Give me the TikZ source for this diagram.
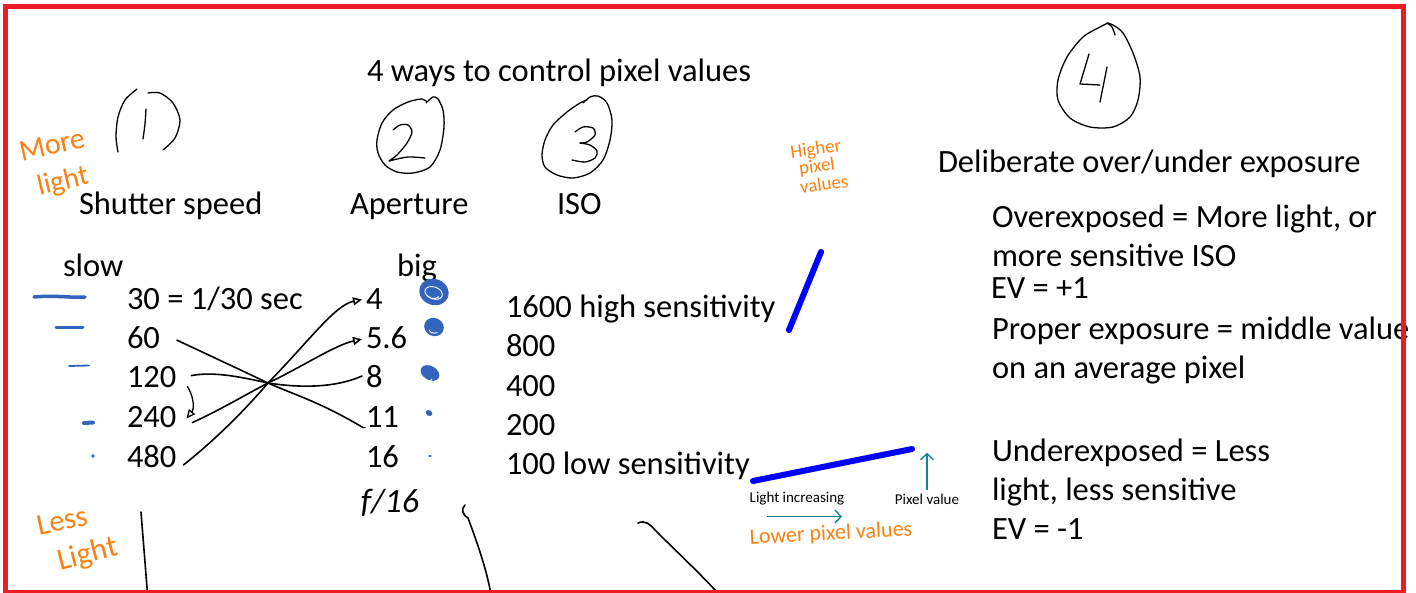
\documentclass[tikz,border=0pt]{standalone}
\usepackage{fontspec}
\setmainfont{Carlito}
\usetikzlibrary{arrows.meta,calc}
\definecolor{frame}{RGB}{237,28,36}
\definecolor{pen}{RGB}{250,130,20}
\definecolor{dotblue}{RGB}{50,100,190}
\definecolor{tealpen}{RGB}{20,130,150}
\begin{document}
\begin{tikzpicture}[x=1pt,y=-1pt,
  txt/.style={inner sep=0pt,outer sep=0pt,anchor=base west,font=\fontsize{32.5}{38}\selectfont},
  small/.style={inner sep=0pt,outer sep=0pt,font=\fontsize{15}{18}\selectfont},
  hand/.style={inner sep=0pt,outer sep=0pt,text=pen},
  ink/.style={line width=1.6pt,line cap=round,line join=round,black},
  stroke/.style={dotblue,line cap=round},
  bigline/.style={line width=6pt,blue,line cap=round},
  opentip/.style={-{Triangle[open,length=9pt,width=8pt]}},
  barb/.style={tealpen,line width=1.4pt,-{Straight Barb[length=6pt,width=13pt]}}]
\useasboundingbox (0,0) rectangle (1416,593);
\fill[white] (0,0) rectangle (1416,593);

% ---- headings
\node[txt] (title) at (367,82) {4 ways to control pixel values};
\node[txt] (shutter) at (79,215) {Shutter speed};
\node[txt] (aperture) at (350,215) {Aperture};
\node[txt] (iso) at (557,215) {ISO};
\node[txt] (delib) at (938,173) {Deliberate over/under exposure};

% ---- circled numbers
\draw[ink,line width=1.3pt] plot[smooth] coordinates {(118,152) (116,137) (118,117) (125,100) (137,89)};
\draw[ink,line width=1.3pt] plot[smooth] coordinates {(148,93) (160,93) (173,103) (180,120) (175,138) (163,150)};
\draw[ink,line width=1.3pt] plot[smooth] coordinates {(146,109) (145,124) (143,139)};

\draw[ink,line width=1.3pt] plot[smooth] coordinates {(426,103) (433,97) (438,99) (443,110) (444,127) (440,150) (430,167) (413,173) (397,172) (385,165) (378,153) (377,140) (382,123) (393,110) (408,102) (422,99) (427,102)};
\draw[ink,line width=1.3pt] plot[smooth] coordinates {(393,130) (400,125) (408,125) (412,132) (407,143) (397,155) (389,161) (393,160) (408,157) (425,158)};

\draw[ink,line width=1.3pt] plot[smooth] coordinates {(583,103) (590,97) (598,96) (607,103) (612,120) (610,140) (603,160) (590,173) (573,178) (557,175) (545,167) (542,155) (545,140) (553,125) (567,112) (580,103) (587,100)};
\draw[ink,line width=1.3pt] plot[smooth] coordinates {(575,132) (583,127) (593,128) (595,135) (587,142) (580,143)};
\draw[ink,line width=1.3pt] plot[smooth] coordinates {(580,143) (590,145) (597,151) (595,158) (585,162) (572,160)};

\draw[ink,line width=1.3pt] plot[smooth] coordinates {(1115,35) (1112,27) (1107,23) (1113,25) (1123,33) (1133,53) (1140,77) (1138,100) (1130,117) (1113,127) (1090,127) (1070,118) (1058,100) (1058,80) (1067,57) (1083,37) (1100,27) (1108,23)};
\draw[ink,line width=1.3pt] (1089,54) -- (1080,84) -- (1100,85);
\draw[ink,line width=1.3pt] (1107,67) -- (1100,102);

% ---- shutter speed column
\node[txt] (slow) at (63,277) {slow};
\node[txt] (s30) at (127,310) {30 = 1/30 sec};
\node[txt] (s60) at (127,349) {60};
\node[txt] (s120) at (127,388) {120};
\node[txt] (s240) at (127,428) {240};
\node[txt] (s480) at (127,467) {480};

\draw[stroke,line width=3.5pt] (34,297) .. controls (55,295) and (70,298) .. (85,297);
\draw[stroke,line width=3pt] (56,328) -- (83,328);
\draw[stroke,line width=1.8pt] (69,366) -- (89,365.5);
\draw[stroke,line width=4pt] (84,423) -- (93,422.5);
\fill[dotblue] (93,456) circle (1.8pt);

% ---- aperture column
\node[txt] (big) at (397,277) {big};
\node[txt] (a4) at (366,310) {4};
\node[txt] (a56) at (366,349) {5.6};
\node[txt] (a8) at (366,388) {8};
\node[txt] (a11) at (366,428) {11};
\node[txt] (a16) at (366,467) {16};

\fill[dotblue,rotate around={-20:(434,292)}] (434,292) ellipse (15pt and 13pt);
\draw[white,line width=0.9pt,rotate around={-20:(434,292)}] (434,293) ellipse (9pt and 6pt);
\draw[white,line width=0.9pt] (428,296) arc (200:330:6pt and 4pt);
\fill[dotblue,rotate around={-25:(434,327)}] (434,327) ellipse (10pt and 9pt);
\draw[white,line width=0.9pt] (429,330) arc (200:300:6pt and 5pt);
\fill[dotblue,rotate around={-30:(430,373)}] (430,373) ellipse (10pt and 7pt);
\draw[white,line width=0.9pt] (424,378) arc (210:320:5pt and 6pt);
\fill[dotblue,rotate around={-30:(429,413)}] (429,413) ellipse (3.5pt and 2.8pt);
\fill[dotblue] (430,456) ellipse (1.8pt and 1.2pt);

\node[hand,text=black,font=\fontsize{34}{40}\itshape] (fstop) at (390,503) {f/16};

% ---- aperture/shutter pairings
\coordinate (cross) at (268,383);
\draw[ink] ([shift={(17,2)}]s60.east) .. controls (215,358) and (245,372) .. (cross)
  .. controls (295,395) and (320,402) .. ([shift={(-3,10)}]a11.west);
\draw[ink] ([shift={(-3,10)}]a11.west) -- ([shift={(-1,10)}]a11.west);
\draw[ink] ([shift={(15,-2)}]s120.east) .. controls (215,371) and (245,378) .. (cross)
  .. controls (300,388) and (335,388) .. ([shift={(-4,-1)}]a8.west);
\draw[ink,opentip] ([shift={(16,5)}]s240.east) .. controls (220,410) and (245,395) .. (cross)
  .. controls (300,368) and (335,345) .. ([shift={(-4,1)}]a56.west);
\draw[ink,opentip] ([shift={(7,9)}]s480.east) .. controls (215,440) and (245,410) .. (cross)
  .. controls (310,340) and (335,305) .. ([shift={(-4,0)}]a4.west);
\draw[ink,line width=1.3pt,opentip] ([shift={(11,9)}]s120.east) .. controls (193,395) and (195,408) .. ([shift={(10,1)}]s240.east);

% ---- ISO column
\node[txt] (i1600) at (506,318) {1600 high sensitivity};
\node[txt] (i800) at (506,357) {800};
\node[txt] (i400) at (506,396) {400};
\node[txt] (i200) at (506,435) {200};
\node[txt] (i100) at (506,474) {100 low sensitivity};

% ---- pixel value response sketch
\node[hand,font=\fontsize{19}{22}\selectfont,rotate=8] (hv1) at (816,150) {Higher};
\node[hand,font=\fontsize{19}{22}\selectfont,rotate=8] (hv2) at (817,167) {pixel};
\node[hand,font=\fontsize{19}{22}\selectfont,rotate=8] (hv3) at (824,184) {values};
\draw[bigline] (789,330) -- (821,252);
\draw[bigline] (753,481) -- (912,449);
\node[small] (lightinc) at (797,499) {Light increasing};
\node[small] (pixval) at (927,499) {Pixel value};
\draw[barb] ([shift={(-30,11)}]lightinc.south) -- ([shift={(45,11)}]lightinc.south);
\draw[barb] ([yshift=4pt]pixval.north) -- ([yshift=41pt]pixval.north);
\node[hand,font=\fontsize{22}{26}\selectfont,rotate=3] (lower) at (831,534) {Lower pixel values};

% ---- more / less light notes
\node[hand,font=\fontsize{30}{36}\selectfont,rotate=13] (more) at (52,145) {More};
\node[hand,font=\fontsize{29}{36}\selectfont,rotate=13] (mlight) at (63,182) {light};
\node[hand,font=\fontsize{30}{36}\selectfont,rotate=12] (less) at (62,521) {Less};
\node[hand,font=\fontsize{31}{36}\selectfont,rotate=14] (llight) at (88,555) {Light};

% ---- exposure notes
\node[txt] (over1) at (992,228) {Overexposed = More light, or};
\node[txt] (over2) at (992,267) {more sensitive ISO};
\node[txt] (evp) at (991,299) {EV = +1};
\node[txt] (prop1) at (992,340) {Proper exposure = middle value};
\node[txt] (prop2) at (992,378) {on an average pixel};
\node[txt] (under1) at (992,461) {Underexposed = Less};
\node[txt] (under2) at (992,500) {light, less sensitive};
\node[txt] (evm) at (992,539) {EV = -1};

% ---- strokes running off the bottom edge
\draw[ink] (141,512) -- (148,600);
\draw[ink] (465,505) .. controls (461,509) and (462,514) .. (468,518) .. controls (480,550) and (488,575) .. (492,600);
\draw[ink] (638,523) .. controls (645,520) and (650,524) .. (655,530) .. controls (680,555) and (705,578) .. (724,600);

% ---- frame
\draw[frame,line width=4.5pt] (5.5,6.5) rectangle (1403.5,592);
\end{tikzpicture}
\end{document}
